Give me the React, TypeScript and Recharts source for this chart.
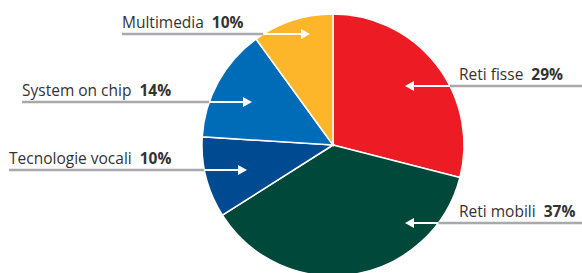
import { Cell, Pie, PieChart } from "recharts";

const categories = ["Reti fisse", "Reti mobili", "Tecnologie vocali", "System on chip", "Multimedia"];
const shares = [29, 37, 10, 14, 10];
const colors = ["#ED1C24", "#00493A", "#004A92", "#006BB6", "#FDB62A"];

// where each callout sits: line height, outer end of the gray line, arrow tip
const callouts = [
  { side: "right", y: 86, end: 582, tip: 405, textX: 459 },
  { side: "right", y: 223, end: 582, tip: 405, textX: 459 },
  { side: "left", y: 170, end: 9, tip: 247, textX: 9 },
  { side: "left", y: 102, end: 22, tip: 252, textX: 22 },
  { side: "left", y: 34, end: 122, tip: 310, textX: 122 },
];

const data = categories.map((name, i) => ({ name, value: shares[i] }));

const FONT = "'Open Sans', 'DejaVu Sans', sans-serif";

function Callout(props: any) {
  const { cx, cy, outerRadius, index } = props;
  const c = callouts[index];
  const dy = c.y - cy;
  const half = Math.sqrt(Math.max(outerRadius * outerRadius - dy * dy, 0));
  const edge = c.side === "right" ? cx + half : cx - half;
  const dir = c.side === "right" ? -1 : 1; // arrow direction
  const head = 9;
  return (
    <g>
      <line x1={c.end} y1={c.y} x2={edge} y2={c.y} stroke="#A7A9AC" strokeWidth={2.5} />
      <line x1={edge} y1={c.y} x2={c.tip - dir * head} y2={c.y} stroke="#fff" strokeWidth={2} />
      <polygon
        points={`${c.tip},${c.y} ${c.tip - dir * head},${c.y - 5} ${c.tip - dir * head},${c.y + 5}`}
        fill="#fff"
      />
      <text x={c.textX} y={c.y - 6} fontFamily={FONT} fontSize={15.5} fill="#333" textAnchor="start">
        {categories[index]}
        <tspan dx={8} fontWeight="bold">{shares[index]}%</tspan>
      </text>
    </g>
  );
}

export default function App() {
  return (
    <div style={{ position: "absolute", left: 0, top: 0, width: 582, height: 273, background: "#fff" }}>
      <PieChart width={582} height={273} margin={{ top: 0, right: 0, bottom: 0, left: 0 }}>
        <Pie
          data={data}
          dataKey="value"
          nameKey="name"
          cx={333}
          cy={145}
          outerRadius={131}
          startAngle={90}
          endAngle={-270}
          stroke="#fff"
          strokeWidth={1.5}
          label={Callout}
          labelLine={false}
          isAnimationActive={false}
        >
          {data.map((d, i) => (
            <Cell key={d.name} fill={colors[i]} />
          ))}
        </Pie>
      </PieChart>
    </div>
  );
}
